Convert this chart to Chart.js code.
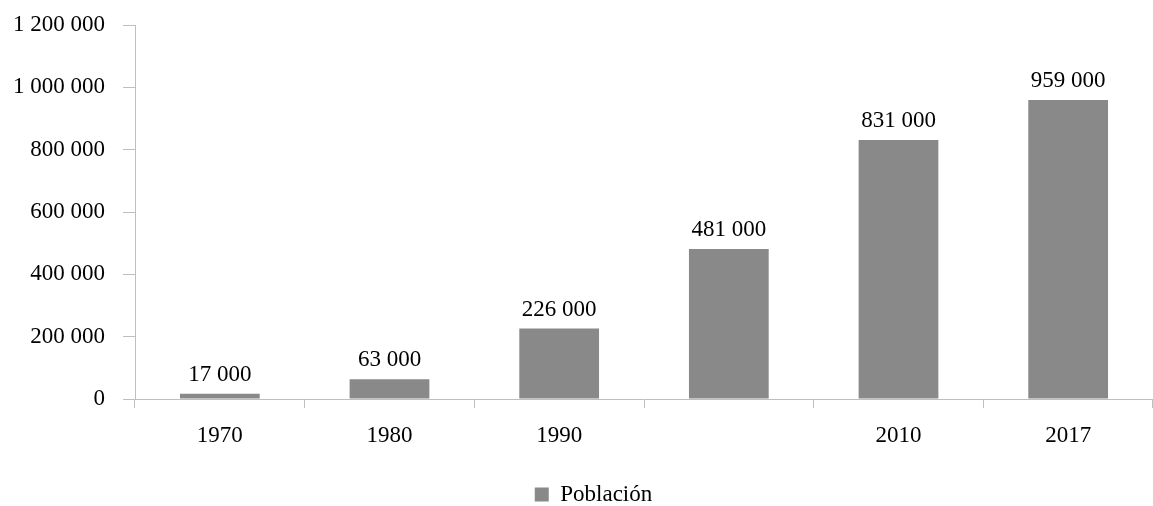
<!DOCTYPE html>
<html>
<head>
<meta charset="utf-8">
<script src="https://cdn.jsdelivr.net/npm/chart.js@4.4.1/dist/chart.umd.min.js"></script>
<style>
  html, body { margin: 0; padding: 0; background: #ffffff; }
  #wrap { width: 1153px; height: 506px; position: relative; }
</style>
</head>
<body>
<div id="wrap"><canvas id="poblacionChart" width="1153" height="506"></canvas></div>
<script>
// Población por año
const years = ['1970', '1980', '1990', '', '2010', '2017'];
const poblacion = [17000, 63000, 226000, 481000, 831000, 959000];
const yTicks = [0, 200000, 400000, 600000, 800000, 1000000, 1200000];

const FONT = '"Liberation Serif", "Times New Roman", serif';
const FONT_SIZE = 23;
const AXIS_GREY = '#bfbfbf';
const BAR_GREY = '#898989';

function fmtSpace(v) {
    return String(v).replace(/\B(?=(\d{3})+(?!\d))/g, ' ');
}

// etiquetas de valor encima de cada barra
const barValuesPlugin = {
    id: 'barValues',
    beforeDraw(chart) {
        // leyenda un poco desplazada a la derecha, como en el original
        if (chart.legend) chart.legend.left = 34;
    },
    afterDatasetsDraw(chart) {
        const { ctx } = chart;
        const meta = chart.getDatasetMeta(0);
        ctx.save();
        ctx.font = FONT_SIZE + 'px ' + FONT;
        ctx.fillStyle = '#000000';
        ctx.textAlign = 'center';
        ctx.textBaseline = 'alphabetic';
        meta.data.forEach((bar, i) => {
            ctx.fillText(fmtSpace(poblacion[i]), bar.x, bar.y - 13);
        });
        ctx.restore();
    }
};

const ctx = document.getElementById('poblacionChart').getContext('2d');

new Chart(ctx, {
    type: 'bar',
    data: {
        labels: years,
        datasets: [{
            label: 'Población',
            data: poblacion,
            backgroundColor: BAR_GREY,
            borderWidth: 0,
            barPercentage: 0.94,
            categoryPercentage: 0.5
        }]
    },
    options: {
        responsive: false,
        animation: false,
        layout: { padding: { top: 25, right: 0, bottom: -10, left: 0 } },
        plugins: {
            legend: {
                position: 'bottom',
                labels: {
                    font: { family: FONT, size: FONT_SIZE },
                    color: '#000000',
                    boxWidth: 14,
                    boxHeight: 14,
                    padding: 0
                }
            },
            tooltip: { enabled: false }
        },
        scales: {
            x: {
                afterFit(scale) { scale.height = 84; },
                grid: {
                    offset: true,
                    drawOnChartArea: false,
                    drawTicks: true,
                    tickLength: 9,
                    color: AXIS_GREY
                },
                border: { color: AXIS_GREY, width: 1 },
                ticks: {
                    font: { family: FONT, size: FONT_SIZE },
                    color: '#000000',
                    padding: 14,
                    maxRotation: 0
                }
            },
            y: {
                min: 0,
                max: 1200000,
                afterFit(scale) {
                    scale.width = 135;
                    scale.paddingTop = 0;
                    scale.paddingBottom = 0;
                },
                afterBuildTicks(scale) {
                    scale.ticks = yTicks.map(v => ({ value: v }));
                },
                grid: {
                    drawOnChartArea: false,
                    drawTicks: true,
                    tickLength: 12,
                    color: AXIS_GREY
                },
                border: { color: AXIS_GREY, width: 1 },
                ticks: {
                    font: { family: FONT, size: FONT_SIZE },
                    color: '#000000',
                    padding: 18,
                    callback: v => fmtSpace(v)
                }
            }
        }
    },
    plugins: [barValuesPlugin]
});
</script>
</body>
</html>
